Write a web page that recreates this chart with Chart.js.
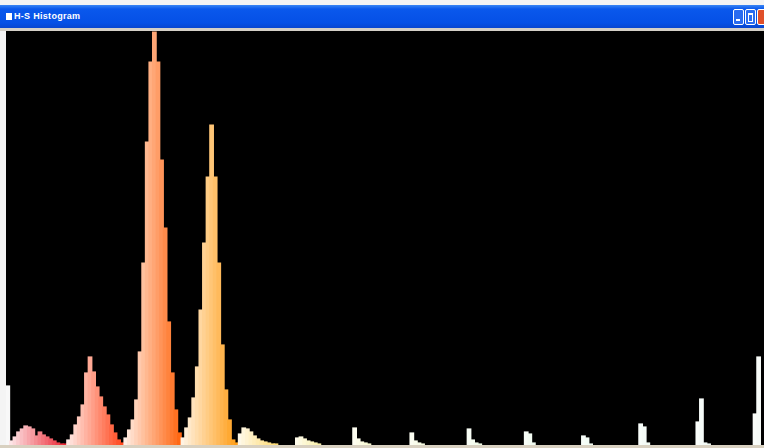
<!DOCTYPE html>
<html>
<head>
<meta charset="utf-8">
<script src="https://cdn.jsdelivr.net/npm/chart.js@4/dist/chart.umd.min.js"></script>
<style>
    html, body { margin: 0; padding: 0; background: #f4f4f4; width: 764px; height: 448px; overflow: hidden; }
    #titlebar {
        position: absolute; left: 0; top: 5px; width: 764px; height: 23px;
        background: linear-gradient(#3a86f4 0px, #0a58ec 4px, #0550e6 18px, #0846d0 23px);
    }
    #icon { position: absolute; left: 6px; top: 8px; width: 6px; height: 7px; background: #ffffff; }
    #title {
        position: absolute; left: 14px; top: 6px; color: #ffffff;
        font: bold 9px "Liberation Sans", sans-serif; letter-spacing: 0.3px;
    }
    .btn {
        position: absolute; top: 4px; width: 9px; height: 14px;
        border: 1px solid #ffffff; border-radius: 2px; background: #2a6cf0;
    }
    #sep { position: absolute; left: 0; top: 28px; width: 764px; height: 3px; background: #d4d0c8; }
    #chartBox { position: absolute; left: 6px; top: 31px; width: 758px; height: 414px; background: #000000; }
    #bottom { position: absolute; left: 0; top: 445px; width: 764px; height: 3px; background: #d8d0c0; }
</style>
</head>
<body>
<div id="titlebar">
    <div id="icon"></div>
    <div id="title">H-S Histogram</div>
    <div class="btn" style="left:733px"><div style="position:absolute;left:2px;top:9px;width:4px;height:2px;background:#fff"></div></div>
    <div class="btn" style="left:745px"><div style="position:absolute;left:2px;top:3px;width:3px;height:6px;border:1px solid #fff;border-top-width:2px"></div></div>
    <div class="btn" style="left:757px;background:#e0502a"></div>
</div>
<div id="sep"></div>
<div id="chartBox"><canvas id="hsChart" width="758" height="414"></canvas></div>
<div id="bottom"></div>
<script>
// pixel counts per bin; bin 0 holds the grey (unsaturated) pixels,
// then 16 saturation bins for each hue group, left = low saturation
const greyBin = [59];
const hue1 = [4, 8, 13, 16, 19, 18, 16, 9, 13, 10, 8, 6, 4, 2, 1, 1];
const hue2 = [5, 10, 20, 28, 40, 72, 88, 73, 58, 48, 38, 30, 20, 12, 5, 2];
const hue3 = [7, 15, 25, 45, 93, 182, 303, 383, 413, 383, 285, 217, 123, 72, 35, 12];
const hue4 = [7, 17, 27, 47, 78, 135, 202, 268, 320, 268, 182, 100, 55, 25, 5, 2];
const hue5 = [11, 17, 16, 13, 9, 6, 4, 3, 2, 1, 1, 0, 0, 0, 0, 0];
const hue6 = [7, 8, 6, 4, 3, 2, 1, 0, 0, 0, 0, 0, 0, 0, 0, 0];
const hue7 = [17, 6, 3, 2, 1, 0, 0, 0, 0, 0, 0, 0, 0, 0, 0, 0];
const hue8 = [12, 4, 2, 1, 0, 0, 0, 0, 0, 0, 0, 0, 0, 0, 0, 0];
const hue9 = [16, 5, 2, 1, 0, 0, 0, 0, 0, 0, 0, 0, 0, 0, 0, 0];
const hue10 = [13, 11, 2, 0, 0, 0, 0, 0, 0, 0, 0, 0, 0, 0, 0, 0];
const hue11 = [9, 7, 1, 0, 0, 0, 0, 0, 0, 0, 0, 0, 0, 0, 0, 0];
const hue12 = [21, 18, 2, 0, 0, 0, 0, 0, 0, 0, 0, 0, 0, 0, 0, 0];
const hue13 = [23, 46, 2, 1, 0, 0, 0, 0, 0, 0, 0, 0, 0, 0, 0, 0];
const hue14 = [31, 88, 0];

const hueGroups = [hue1, hue2, hue3, hue4, hue5, hue6, hue7, hue8, hue9, hue10, hue11, hue12, hue13, hue14];
const hueColors = [
    [236, 40, 52], [255, 72, 30], [255, 104, 20], [255, 158, 24], [255, 205, 60], [245, 225, 80], [236, 240, 130],
    [220, 240, 150], [200, 240, 170], [190, 240, 190], [190, 240, 200], [200, 235, 210], [205, 235, 215], [210, 235, 215]
];

function mix(c, t) {
    const r = Math.round(255 + (c[0] - 255) * t);
    const g = Math.round(255 + (c[1] - 255) * t);
    const b = Math.round(255 + (c[2] - 255) * t);
    return `rgb(${r},${g},${b})`;
}

const values = [...greyBin];
const colors = ['rgb(248,248,248)'];
hueGroups.forEach((group, gi) => {
    group.forEach((v, s) => {
        values.push(v === 0 ? null : v);   // empty bins: draw nothing
        colors.push(mix(hueColors[gi], 0.12 + 0.88 * s / 15));
    });
});
const labels = values.map((v, i) => String(i));

const ctx = document.getElementById('hsChart').getContext('2d');
new Chart(ctx, {
    type: 'bar',
    data: {
        labels: labels,
        datasets: [{
            data: values,
            backgroundColor: colors,
            borderWidth: 0,
            inflateAmount: 0.6,
            barPercentage: 1,
            categoryPercentage: 1
        }]
    },
    options: {
        responsive: false,
        animation: false,
        layout: { padding: 0 },
        plugins: {
            legend: { display: false },
            tooltip: { enabled: false }
        },
        scales: {
            x: { display: false, offset: true },
            y: { display: false, min: 0, max: 414 }
        }
    }
});
</script>
</body>
</html>
